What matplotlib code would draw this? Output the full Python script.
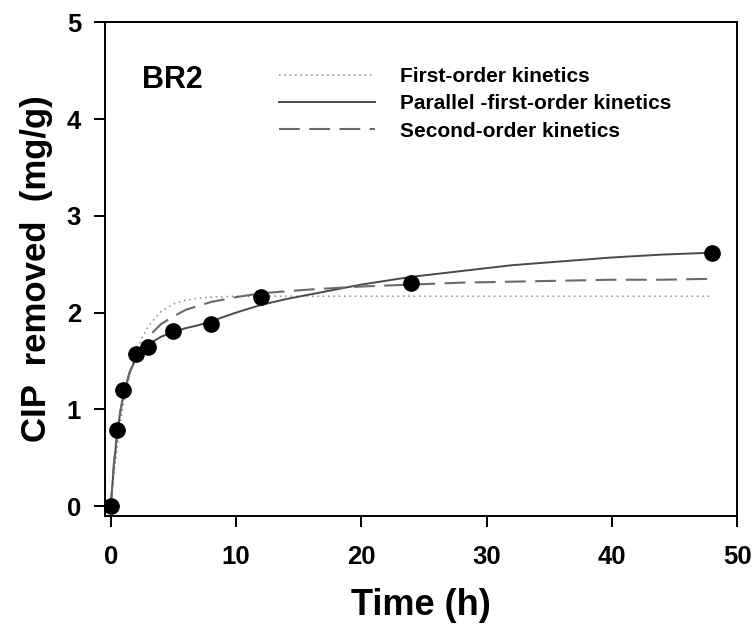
import numpy as np
import matplotlib
matplotlib.use("Agg")
import matplotlib.pyplot as plt

plt.rcParams['font.family'] = ['Liberation Sans', 'DejaVu Sans']
plt.rcParams['font.weight'] = 'bold'

# measured CIP removal, BR2
t_obs = [0, 0.5, 1, 2, 3, 5, 8, 12, 24, 48]
q_obs = [0.0, 0.79, 1.20, 1.57, 1.64, 1.81, 1.88, 2.16, 2.31, 2.62]

# model curves
t_fit = [0, 0.25, 0.5, 0.75, 1, 1.5, 2, 2.5, 3, 4, 5, 6, 7, 8, 10, 12, 14, 16,
         20, 24, 28, 32, 36, 40, 44, 48]
q_first = [0.0, 0.33, 0.60, 0.84, 1.04, 1.35, 1.58, 1.74, 1.86, 2.01, 2.09, 2.13,
           2.15, 2.16, 2.17, 2.17, 2.17, 2.17, 2.17, 2.17, 2.17, 2.17, 2.17, 2.17,
           2.17, 2.17]
q_parallel = [0.0, 0.42, 0.73, 0.96, 1.14, 1.38, 1.52, 1.61, 1.67, 1.75, 1.80, 1.84,
              1.87, 1.91, 2.00, 2.08, 2.14, 2.19, 2.29, 2.37, 2.43, 2.49, 2.53, 2.57,
              2.60, 2.62]
q_second = [0.0, 0.44, 0.75, 0.97, 1.14, 1.38, 1.54, 1.66, 1.75, 1.88, 1.96, 2.03,
            2.07, 2.11, 2.16, 2.20, 2.22, 2.24, 2.27, 2.29, 2.31, 2.32, 2.33, 2.34,
            2.34, 2.35]

fig = plt.figure(figsize=(7.54, 6.32), dpi=100)
ax = fig.add_axes([0.1389, 0.184, 0.9775 - 0.1389, 0.9644 - 0.184])

ax.plot(t_fit, q_first, linestyle=(0, (1, 2.5)), color='#8a8a8a', lw=1.1,
        label='First-order kinetics')
ax.plot(t_fit, q_parallel, '-', color='#4a4a4a', lw=1.4,
        label='Parallel -first-order kinetics')
ax.plot(t_fit, q_second, linestyle=(0, (10, 4.5)), color='#6a6a6a', lw=1.5,
        label='Second-order kinetics')
ax.plot(t_obs, q_obs, 'o', color='black', markersize=11, zorder=5)

ax.set_xlim(-0.48, 50)
ax.set_ylim(-0.1, 5)
ax.set_xticks([0, 10, 20, 30, 40, 50])
ax.set_yticks([0, 1, 2, 3, 4, 5])

for s in ax.spines:
    ax.spines[s].set_linewidth(1.4)

ax.tick_params(axis='both', direction='out', length=8, width=1.4, labelsize=18.5)
ax.tick_params(axis='x', pad=13)
ax.tick_params(axis='y', pad=9)

ax.set_xlabel('Time (h)', fontsize=26, fontweight='bold', labelpad=14)
ax.set_ylabel('CIP  removed  (mg/g)', fontsize=25, fontweight='bold', labelpad=10)

fig.text(142 / 754, 1 - 88 / 632, 'BR2', fontsize=22, fontweight='bold',
         va='baseline')

leg = ax.legend(loc='upper left', bbox_to_anchor=(279 / 754, 1 - 67 / 632),
                bbox_transform=fig.transFigure, frameon=False, fontsize=15,
                handlelength=4.6, handletextpad=1.2, labelspacing=0.40,
                borderpad=0, borderaxespad=0)

fig.savefig('out.png', dpi=100)
